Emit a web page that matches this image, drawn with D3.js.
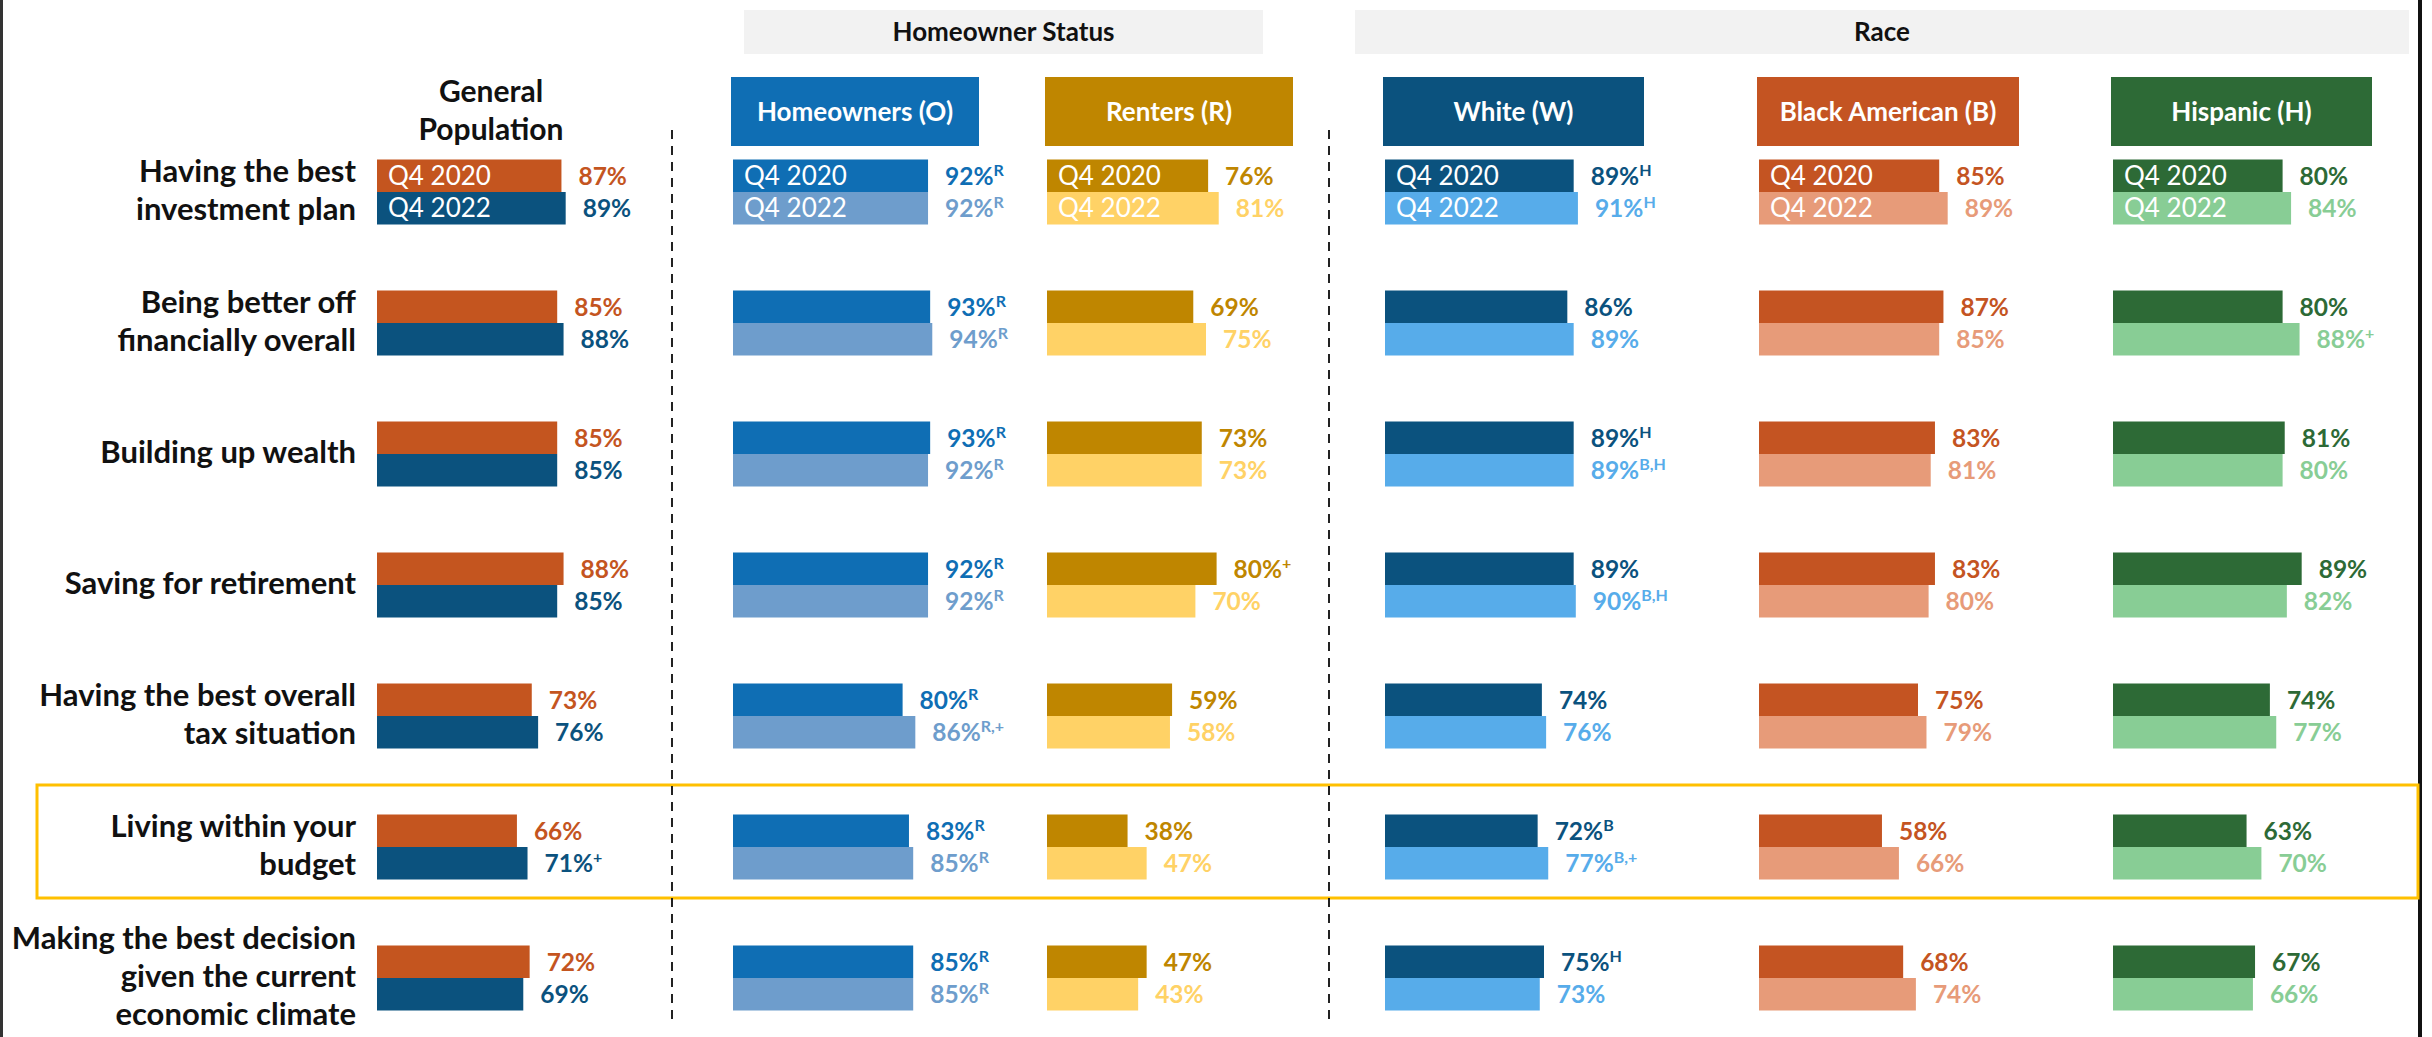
<!DOCTYPE html>
<head>
<meta charset="utf-8">
<title> Financial goals by segment </title>
<script type="text/javascript" src="https://cdn.jsdelivr.net/npm/d3@7"></script>
<style>
body { margin: 0; background: #fff; }
text { font-family: Lato, "Open Sans", sans-serif; }
</style>
</head>

<body>
<script>
// rows of the chart (each label broken into its lines)
var rowLabels = [
	["Having the best", "investment plan"],
	["Being better off", "financially overall"],
	["Building up wealth"],
	["Saving for retirement"],
	["Having the best overall", "tax situation"],
	["Living within your", "budget"],
	["Making the best decision", "given the current", "economic climate"]
];

var segments = ["General Population", "Homeowners (O)", "Renters (R)", "White (W)", "Black American (B)", "Hispanic (H)"];
var periods = ["Q4 2020", "Q4 2022"];
var groupNames = ["Homeowner Status", "Race"];

// percent values, one array per segment (rows in order)
var q2020 = [
	[87, 85, 85, 88, 73, 66, 72],
	[92, 93, 93, 92, 80, 83, 85],
	[76, 69, 73, 80, 59, 38, 47],
	[89, 86, 89, 89, 74, 72, 75],
	[85, 87, 83, 83, 75, 58, 68],
	[80, 80, 81, 89, 74, 63, 67]
];
var q2022 = [
	[89, 88, 85, 85, 76, 71, 69],
	[92, 94, 92, 92, 86, 85, 85],
	[81, 75, 73, 70, 58, 47, 43],
	[91, 89, 89, 90, 76, 77, 73],
	[89, 85, 81, 80, 79, 66, 74],
	[84, 88, 80, 82, 77, 70, 66]
];

// significance notes shown as superscripts
var sup2020 = [
	["", "", "", "", "", "", ""],
	["R", "R", "R", "R", "R", "R", "R"],
	["", "", "", "+", "", "", ""],
	["H", "", "H", "", "", "B", "H"],
	["", "", "", "", "", "", ""],
	["", "", "", "", "", "", ""]
];
var sup2022 = [
	["", "", "", "", "", "+", ""],
	["R", "R", "R", "R", "R,+", "R", "R"],
	["", "", "", "", "", "", ""],
	["H", "", "B,H", "B,H", "", "B,+", ""],
	["", "", "", "", "", "", ""],
	["", "+", "", "", "", "", ""]
];

var highlightRow = 5;

// ---- layout & colours ----
var width = 2432, height = 1037;
var colX = [377, 733, 1047, 1385, 1759, 2113];
var headW = [0, 248, 248, 261, 262, 261];
var dark = ["#c4551f", "#0f6eb4", "#bf8600", "#0b527e", "#c45422", "#2d6a36"];
var light = ["#0b527e", "#6e9dcc", "#ffd266", "#57acea", "#e79b79", "#88cd95"];

var svg = d3.select("body").append("svg")
	.attr("width", width)
	.attr("height", height);

var x = d3.scaleLinear().domain([0, 100]).range([0, 212]);
var y = d3.scalePoint().domain(d3.range(rowLabels.length)).range([192, 978]);
var yb = d3.scaleBand().domain(periods).range([-32.5, 32.5]);

// frame lines
svg.append("rect").attr("x", 0).attr("y", 0).attr("width", 3).attr("height", height).style("fill", "#333");
svg.append("rect").attr("x", 2418).attr("y", 0).attr("width", 4).attr("height", height).style("fill", "#111");

// group header boxes
var groupBox = [[744, 1263], [1355, 2409]];
groupNames.forEach(function(g, i) {
	svg.append("rect")
		.attr("x", groupBox[i][0]).attr("y", 10)
		.attr("width", groupBox[i][1] - groupBox[i][0]).attr("height", 44)
		.style("fill", "#f2f2f2");
	svg.append("text")
		.attr("x", (groupBox[i][0] + groupBox[i][1]) / 2).attr("y", 41)
		.attr("text-anchor", "middle")
		.attr("font-size", "26px").attr("font-weight", 700)
		.style("fill", "#111")
		.text(g);
});

// highlight box around one row
svg.append("rect")
	.attr("x", 37).attr("y", y(highlightRow) - 62)
	.attr("width", 2381).attr("height", 113)
	.style("fill", "none").style("stroke", "#ffc000").style("stroke-width", 3);

// dashed separators
[672, 1329].forEach(function(dx) {
	svg.append("line")
		.attr("x1", dx).attr("x2", dx).attr("y1", 130).attr("y2", 1022)
		.style("stroke", "#222").style("stroke-width", 2)
		.style("stroke-dasharray", "9,7");
});

// segment headers
svg.append("text")
	.attr("x", 491).attr("y", 102)
	.attr("text-anchor", "middle").attr("font-size", "30px").attr("font-weight", 700)
	.style("fill", "#111")
	.selectAll("tspan").data(["General", "Population"]).enter().append("tspan")
	.attr("x", 491).attr("dy", function(d, i) { return i ? 38 : 0; })
	.text(function(d) { return d; });

segments.forEach(function(s, i) {
	if (i == 0) return;
	svg.append("rect")
		.attr("x", colX[i] - 2).attr("y", 77)
		.attr("width", headW[i]).attr("height", 69)
		.style("fill", dark[i]);
	svg.append("text")
		.attr("x", colX[i] - 2 + headW[i] / 2).attr("y", 121)
		.attr("text-anchor", "middle").attr("font-size", "26px").attr("font-weight", 700)
		.style("fill", "white")
		.text(s);
});

// row labels
rowLabels.forEach(function(lines, r) {
	var t = svg.append("text")
		.attr("x", 356)
		.attr("text-anchor", "end").attr("font-size", "31px").attr("font-weight", 700)
		.style("fill", "#111");
	lines.forEach(function(l, k) {
		t.append("tspan")
			.attr("x", 356)
			.attr("y", y(r) + (k - (lines.length - 1) / 2) * 38 + 9)
			.text(l);
	});
});

// bars + labels
segments.forEach(function(s, i) {
	var g = svg.append("g").attr("transform", "translate(" + colX[i] + ",0)");
	rowLabels.forEach(function(lines, r) {
		var vals = [q2020[i][r], q2022[i][r]];
		var sups = [sup2020[i][r], sup2022[i][r]];
		periods.forEach(function(p, k) {
			var y0 = y(r) + yb(p);
			g.append("rect")
				.attr("x", 0).attr("y", y0)
				.attr("width", x(vals[k])).attr("height", yb.bandwidth())
				.style("fill", k ? light[i] : dark[i]);
			if (r == 0) {
				g.append("text")
					.attr("x", 11).attr("y", y0 + yb.bandwidth() / 2 + 9)
					.attr("font-size", "26px").attr("font-weight", 400)
					.style("fill", "white")
					.text(p);
			}
			var lab = g.append("text")
				.attr("x", x(vals[k]) + 17).attr("y", y0 + yb.bandwidth() / 2 + 9)
				.attr("font-size", "24.5px").attr("font-weight", 700)
				.style("fill", k ? light[i] : dark[i]);
			lab.append("tspan").text(vals[k] + "%");
			if (sups[k]) {
				lab.append("tspan").attr("dy", -9).attr("font-size", "16px").text(sups[k]);
			}
		});
	});
});
</script>
</body>
